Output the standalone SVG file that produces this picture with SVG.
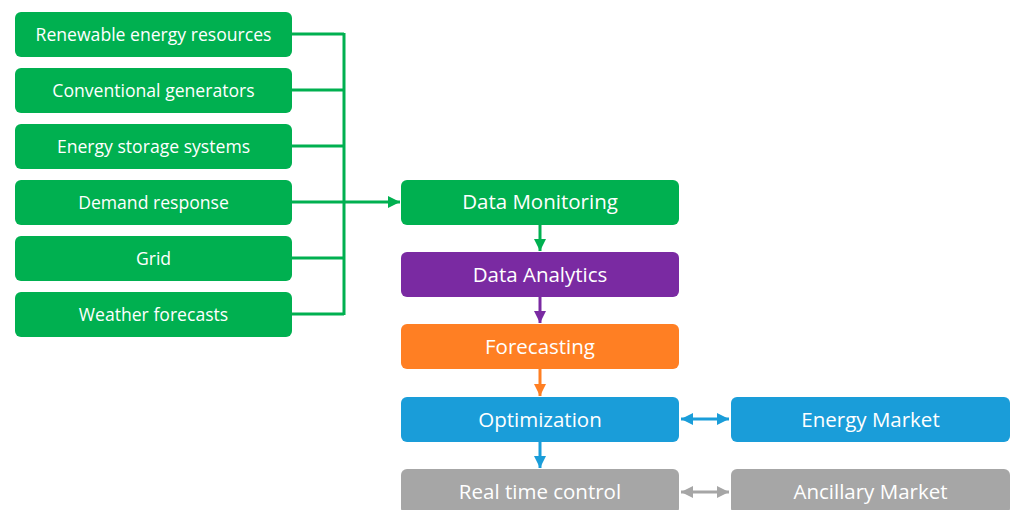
<svg xmlns="http://www.w3.org/2000/svg" width="1011" height="510" viewBox="0 0 1011 510">
  <style>
    .box { stroke: none; }
    .green { fill: #00B050; }
    .purple { fill: #7A2AA2; }
    .orange { fill: #FF7F23; }
    .blue { fill: #1A9DD9; }
    .grey { fill: #A6A6A6; }
    .lbl { fill: #ffffff; font-family: "Open Sans", "Noto Sans", sans-serif; text-anchor: middle; dominant-baseline: central; }
    .small { font-size: 17.6px; }
    .big { font-size: 20.5px; }
    .wire { fill: none; stroke-width: 3; }
  </style>
  <defs>
    <marker id="ahG" viewBox="0 0 10 10" refX="10" refY="5" markerWidth="4" markerHeight="4" orient="auto-start-reverse" markerUnits="strokeWidth">
      <path d="M0,0 L10,5 L0,10 z" fill="#00B050"/>
    </marker>
    <marker id="ahP" viewBox="0 0 10 10" refX="10" refY="5" markerWidth="4" markerHeight="4" orient="auto-start-reverse" markerUnits="strokeWidth">
      <path d="M0,0 L10,5 L0,10 z" fill="#7A2AA2"/>
    </marker>
    <marker id="ahO" viewBox="0 0 10 10" refX="10" refY="5" markerWidth="4" markerHeight="4" orient="auto-start-reverse" markerUnits="strokeWidth">
      <path d="M0,0 L10,5 L0,10 z" fill="#FF7F23"/>
    </marker>
    <marker id="ahB" viewBox="0 0 10 10" refX="10" refY="5" markerWidth="4" markerHeight="4" orient="auto-start-reverse" markerUnits="strokeWidth">
      <path d="M0,0 L10,5 L0,10 z" fill="#1A9DD9"/>
    </marker>
    <marker id="ahGr" viewBox="0 0 10 10" refX="10" refY="5" markerWidth="4" markerHeight="4" orient="auto-start-reverse" markerUnits="strokeWidth">
      <path d="M0,0 L10,5 L0,10 z" fill="#A6A6A6"/>
    </marker>
  </defs>

  <g id="connectors">
    <!-- input bus -->
    <path class="wire" stroke="#00B050" d="M292,34 H344 M292,90 H344 M292,146 H344 M292,258 H344 M292,314 H344 M344,33 V315"/>
    <path class="wire" stroke="#00B050" d="M292,202 H400" marker-end="url(#ahG)"/>
    <!-- main chain -->
    <path class="wire" stroke="#00B050" d="M540,224 V251" marker-end="url(#ahG)"/>
    <path class="wire" stroke="#7A2AA2" d="M540,297 V323" marker-end="url(#ahP)"/>
    <path class="wire" stroke="#FF7F23" d="M540,369 V396" marker-end="url(#ahO)"/>
    <path class="wire" stroke="#1A9DD9" d="M540,441 V468" marker-end="url(#ahB)"/>
    <!-- market links -->
    <path class="wire" stroke="#1A9DD9" d="M681,419 H729" marker-start="url(#ahB)" marker-end="url(#ahB)"/>
    <path class="wire" stroke="#A6A6A6" d="M681,492 H729" marker-start="url(#ahGr)" marker-end="url(#ahGr)"/>
  </g>

  <g id="renewable">
    <rect class="box green" x="15" y="12" width="277" height="45" rx="6"/>
    <text class="lbl small" x="153.5" y="33.5">Renewable energy resources</text>
  </g>
  <g id="conventional">
    <rect class="box green" x="15" y="68" width="277" height="45" rx="6"/>
    <text class="lbl small" x="153.5" y="89.5">Conventional generators</text>
  </g>
  <g id="storage">
    <rect class="box green" x="15" y="124" width="277" height="45" rx="6"/>
    <text class="lbl small" x="153.5" y="145.5">Energy storage systems</text>
  </g>
  <g id="demand">
    <rect class="box green" x="15" y="180" width="277" height="45" rx="6"/>
    <text class="lbl small" x="153.5" y="201.5">Demand response</text>
  </g>
  <g id="grid">
    <rect class="box green" x="15" y="236" width="277" height="45" rx="6"/>
    <text class="lbl small" x="153.5" y="257.5">Grid</text>
  </g>
  <g id="weather">
    <rect class="box green" x="15" y="292" width="277" height="45" rx="6"/>
    <text class="lbl small" x="153.5" y="313.5">Weather forecasts</text>
  </g>

  <g id="monitoring">
    <rect class="box green" x="401" y="180" width="278" height="45" rx="6"/>
    <text class="lbl big" x="540" y="201">Data Monitoring</text>
  </g>
  <g id="analytics">
    <rect class="box purple" x="401" y="252" width="278" height="45" rx="6"/>
    <text class="lbl big" x="540" y="273.5">Data Analytics</text>
  </g>
  <g id="forecasting">
    <rect class="box orange" x="401" y="324" width="278" height="45" rx="6"/>
    <text class="lbl big" x="540" y="345.5">Forecasting</text>
  </g>
  <g id="optimization">
    <rect class="box blue" x="401" y="397" width="278" height="45" rx="6"/>
    <text class="lbl big" x="540" y="418.5">Optimization</text>
  </g>
  <g id="realtime">
    <rect class="box grey" x="401" y="469" width="278" height="45" rx="6"/>
    <text class="lbl big" x="540" y="491">Real time control</text>
  </g>
  <g id="energy-market">
    <rect class="box blue" x="731" y="397" width="279" height="45" rx="6"/>
    <text class="lbl big" x="870.5" y="418.5">Energy Market</text>
  </g>
  <g id="ancillary-market">
    <rect class="box grey" x="731" y="469" width="279" height="45" rx="6"/>
    <text class="lbl big" x="870.5" y="491">Ancillary Market</text>
  </g>
</svg>
